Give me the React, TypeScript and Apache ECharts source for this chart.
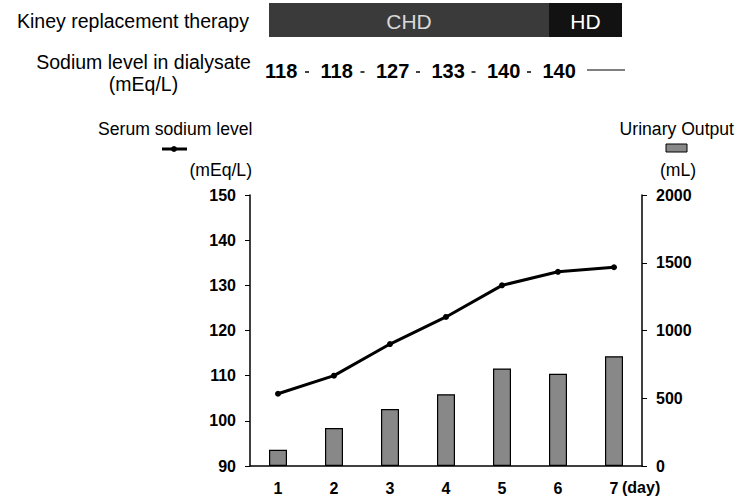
import React, { useEffect, useRef } from "react";
import * as echarts from "echarts";

const days = ["1", "2", "3", "4", "5", "6", "7"];
const serumSodium = [106, 110, 117, 123, 130, 133, 134];
const urinaryOutput = [120, 280, 420, 530, 720, 680, 810];
const dialysateSodium = [118, 118, 127, 133, 140, 140];
const therapySegments = [
  { name: "CHD", from: 269, to: 549, color: "#3a3a3a", text: "#d8d8d8" },
  { name: "HD", from: 549, to: 622, color: "#121212", text: "#ffffff" },
];
const leftTicks = { min: 90, max: 150, interval: 10 };
const rightTicks = { min: 0, max: 2000, interval: 500 };

const FONT = "'Liberation Sans', Arial, sans-serif";

export default function App() {
  const ref = useRef<HTMLDivElement>(null);
  useEffect(() => {
    if (!ref.current) return;
    const chart = echarts.init(ref.current, null, { renderer: "svg" });
    const graphics: any[] = [
      { type: "text", x: 17, y: 21, style: { text: "Kiney replacement therapy", font: `19.5px ${FONT}`, fill: "#000", verticalAlign: "middle" } },
    ];
    therapySegments.forEach((s) => {
      graphics.push({ type: "rect", shape: { x: s.from, y: 3, width: s.to - s.from, height: 34 }, style: { fill: s.color } });
      graphics.push({ type: "text", x: (s.from + s.to) / 2, y: 21, style: { text: s.name, font: `21px ${FONT}`, fill: s.text, align: "center", verticalAlign: "middle" } });
    });
    graphics.push(
      { type: "text", x: 143.5, y: 62, style: { text: "Sodium level in dialysate", font: `19.5px ${FONT}`, fill: "#000", align: "center", verticalAlign: "middle" } },
      { type: "text", x: 143.5, y: 84, style: { text: "(mEq/L)", font: `19.5px ${FONT}`, fill: "#000", align: "center", verticalAlign: "middle" } }
    );
    dialysateSodium.forEach((v, i) => {
      const x = 265 + i * 55.5;
      graphics.push({ type: "text", x, y: 71, style: { text: String(v), font: `bold 20px ${FONT}`, fill: "#000", align: "left", verticalAlign: "middle" } });
      if (i < dialysateSodium.length - 1) {
        graphics.push({ type: "line", shape: { x1: x + 40, y1: 72, x2: x + 44, y2: 72 }, style: { stroke: "#000", lineWidth: 1.5 } });
      }
    });
    graphics.push(
      { type: "line", shape: { x1: 587, y1: 70, x2: 625, y2: 70 }, style: { stroke: "#000", lineWidth: 1.2 } },
      { type: "text", x: 98, y: 129, style: { text: "Serum sodium level", font: `17.6px ${FONT}`, fill: "#000", align: "left", verticalAlign: "middle" } },
      { type: "line", shape: { x1: 162, y1: 149, x2: 187, y2: 149 }, style: { stroke: "#000", lineWidth: 3 } },
      { type: "circle", shape: { cx: 174, cy: 149, r: 3 }, style: { fill: "#000" } },
      { type: "text", x: 252, y: 170, style: { text: "(mEq/L)", font: `17.6px ${FONT}`, fill: "#000", align: "right", verticalAlign: "middle" } },
      { type: "text", x: 734, y: 129, style: { text: "Urinary Output", font: `17.6px ${FONT}`, fill: "#000", align: "right", verticalAlign: "middle" } },
      { type: "rect", shape: { x: 666, y: 144, width: 21, height: 8 }, style: { fill: "#888888", stroke: "#000", lineWidth: 1 } },
      { type: "text", x: 678, y: 170, style: { text: "(mL)", font: `17.6px ${FONT}`, fill: "#000", align: "center", verticalAlign: "middle" } },
      { type: "text", x: 622, y: 487, style: { text: "(day)", font: `bold 16px ${FONT}`, fill: "#000", align: "left", verticalAlign: "middle" } }
    );

    chart.setOption({
      animation: false,
      backgroundColor: "#fff",
      textStyle: { fontFamily: FONT },
      grid: { left: 250, right: 108, top: 195, bottom: 31 },
      xAxis: {
        type: "category",
        data: days,
        boundaryGap: true,
        axisLine: { lineStyle: { color: "#000", width: 1.5 } },
        axisTick: { show: false },
        axisLabel: { color: "#000", fontSize: 16, fontWeight: "bold", fontFamily: FONT, margin: 14 },
      },
      yAxis: [
        {
          type: "value",
          min: leftTicks.min,
          max: leftTicks.max,
          interval: leftTicks.interval,
          axisLine: { show: true, lineStyle: { color: "#000", width: 1.5 } },
          axisTick: { show: true, length: 5, lineStyle: { color: "#000" } },
          splitLine: { show: false },
          axisLabel: { color: "#000", fontSize: 16, fontWeight: "bold", fontFamily: FONT, margin: 14 },
        },
        {
          type: "value",
          min: rightTicks.min,
          max: rightTicks.max,
          interval: rightTicks.interval,
          position: "right",
          axisLine: { show: true, lineStyle: { color: "#000", width: 1.5 } },
          axisTick: { show: true, length: 5, lineStyle: { color: "#000" } },
          splitLine: { show: false },
          axisLabel: { color: "#000", fontSize: 16, fontWeight: "bold", fontFamily: FONT, margin: 14, formatter: (v: number) => String(v) },
        },
      ],
      series: [
        {
          type: "bar",
          yAxisIndex: 1,
          data: urinaryOutput,
          barWidth: 18,
          itemStyle: { color: "#888888", borderColor: "#000", borderWidth: 1.2 },
          z: 1,
        },
        {
          type: "line",
          yAxisIndex: 0,
          data: serumSodium,
          symbol: "circle",
          symbolSize: 6,
          lineStyle: { color: "#000", width: 3 },
          itemStyle: { color: "#000" },
          z: 3,
        },
      ],
      graphic: graphics,
    });
    return () => chart.dispose();
  }, []);
  return <div ref={ref} style={{ width: 750, height: 497, position: "fixed", left: 0, top: 0 }} />;
}
